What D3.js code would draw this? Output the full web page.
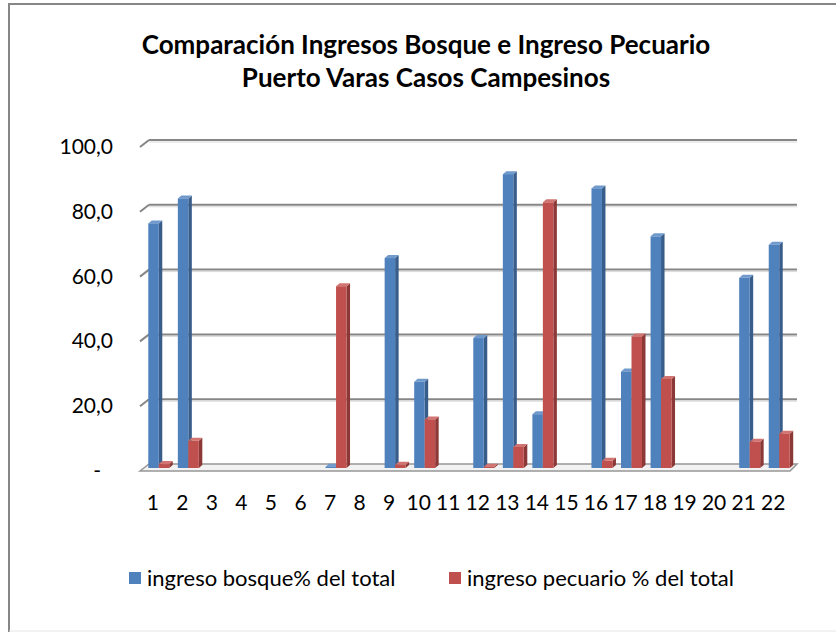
<!DOCTYPE html>
<html>
<head>
<meta charset="utf-8">
<script src="https://cdn.jsdelivr.net/npm/d3@7"></script>
<style>
  body { margin: 0; background: #fff; }
  svg { display: block; font-family: Lato, "Open Sans", sans-serif; }
</style>
</head>
<body>
<svg id="chart" width="836" height="632"></svg>
<script>
// Data
const categories = ['1','2','3','4','5','6','7','8','9','10','11','12','13','14','15','16','17','18','19','20','21','22'];
const bosque   = [75.5, 83.2, 0, 0, 0, 0, 0.4, 0, 64.8, 26.6, 0, 40.1, 90.7, 16.6, 0, 86.3, 29.8, 71.5, 0, 0, 58.7, 68.9];
const pecuario = [1.2, 8.4, 0, 0, 0, 0, 56.1, 0, 1.0, 15.0, 0, 0.4, 6.5, 82.0, 0, 2.2, 40.6, 27.5, 0, 0, 8.1, 10.6];
const seriesNames = ['ingreso bosque% del total', 'ingreso pecuario % del total'];
const yTicks = [0, 20, 40, 60, 80, 100];

const colors = [
  { front: '#4f81bd', side: '#385d8a', top: '#7099cc' },
  { front: '#c0504d', side: '#8c3836', top: '#d27471' }
];

const svg = d3.select('#chart');

// outer frame
svg.append('path')
  .attr('d', 'M9,632 L9,4 L836,4')
  .attr('fill', 'none')
  .attr('stroke', '#868686')
  .attr('stroke-width', 2);
svg.append('line')
  .attr('x1', 9).attr('x2', 836).attr('y1', 631).attr('y2', 631)
  .attr('stroke', '#e6e6e6').attr('stroke-width', 1);

// title
const title = svg.append('text')
  .attr('x', 426)
  .attr('text-anchor', 'middle')
  .style('font-size', '26px')
  .style('font-weight', 'bold');
title.append('tspan').attr('x', 426).attr('y', 54).text('Comparación Ingresos Bosque e Ingreso Pecuario');
title.append('tspan').attr('x', 426).attr('y', 87).text('Puerto Varas Casos Campesinos');

// 3D geometry
const depth = { dx: 9, dy: -7 };
const x0 = 140, x1 = 790;
const x = d3.scaleBand().domain(categories).range([x0, x1]).paddingInner(0.29).paddingOuter(0.145);
const xs = d3.scaleBand().domain([0, 1]).range([0, x.bandwidth()]);
const yFront = d3.scaleLinear().domain([0, 100]).range([471, 147]);
const yBack = v => yFront(v) + depth.dy;

// back wall gridlines
const grid = svg.append('g');
yTicks.forEach(t => {
  if (t === 0) return;
  grid.append('line')
    .attr('x1', x0 + depth.dx).attr('x2', x1 + 7)
    .attr('y1', yBack(t) + 2).attr('y2', yBack(t) + 2)
    .attr('stroke', '#d9d9d9').attr('stroke-width', 1);
  grid.append('line')
    .attr('x1', x0 + depth.dx).attr('x2', x1 + 7)
    .attr('y1', yBack(t)).attr('y2', yBack(t))
    .attr('stroke', '#868686').attr('stroke-width', 2);
  grid.append('line')
    .attr('x1', x0).attr('x2', x0 + depth.dx)
    .attr('y1', yFront(t)).attr('y2', yBack(t))
    .attr('stroke', '#868686').attr('stroke-width', 2);
});

// floor
svg.append('path')
  .attr('d', `M${x0},${yFront(0)} L${x0 + depth.dx},${yBack(0)} L${x1 + 7},${yBack(0)} L${x1},${yFront(0)} Z`)
  .attr('fill', '#f2f2f2')
  .attr('stroke', '#969696')
  .attr('stroke-width', 1.5);

// y axis labels
svg.append('g').selectAll('text')
  .data(yTicks)
  .join('text')
  .attr('x', d => d === 0 ? 101 : 113)
  .attr('y', d => yFront(d) + 7)
  .attr('text-anchor', 'end')
  .style('font-size', '21px')
  .text(d => d === 0 ? '-' : d3.format('.1f')(d).replace('.', ','));

// x axis labels
svg.append('g').selectAll('text')
  .data(categories)
  .join('text')
  .attr('x', d => x(d) + x.bandwidth() / 2 - 2)
  .attr('y', 510)
  .attr('text-anchor', 'middle')
  .style('font-size', '21px')
  .text(d => d);

// bars (mid depth)
const bd = { dx: 4, dy: -3 };  // offset of bar front from the floor front
const sd = { dx: 3.5, dy: -3 }; // bar own depth
const bars = [];
categories.forEach((c, i) => {
  [bosque[i], pecuario[i]].forEach((v, s) => {
    if (v > 0) bars.push({ c, s, v });
  });
});

const barG = svg.append('g').selectAll('g')
  .data(bars)
  .join('g');

barG.each(function(d) {
  const g = d3.select(this);
  const col = colors[d.s];
  const bx = x(d.c) + xs(d.s) + bd.dx;
  const bw = xs.bandwidth();
  const yb = yFront(0) + bd.dy;
  const yt = yFront(d.v) + bd.dy;
  // side
  g.append('path')
    .attr('d', `M${bx + bw},${yb} L${bx + bw + sd.dx},${yb + sd.dy} L${bx + bw + sd.dx},${yt + sd.dy} L${bx + bw},${yt} Z`)
    .attr('fill', col.side);
  // top
  g.append('path')
    .attr('d', `M${bx},${yt} L${bx + sd.dx},${yt + sd.dy} L${bx + bw + sd.dx},${yt + sd.dy} L${bx + bw},${yt} Z`)
    .attr('fill', col.top);
  // front
  g.append('rect')
    .attr('x', bx).attr('y', yt)
    .attr('width', bw).attr('height', Math.max(yb - yt, 0.5))
    .attr('fill', col.front);
});

// legend
const legendX = [129, 449];
const legend = svg.append('g').selectAll('g')
  .data(seriesNames)
  .join('g')
  .attr('transform', (d, i) => `translate(${legendX[i]},572)`);
legend.append('rect')
  .attr('width', 12).attr('height', 12)
  .attr('fill', (d, i) => colors[i].front);
legend.append('text')
  .attr('x', 18).attr('y', 14)
  .style('font-size', '22px')
  .text(d => d);
</script>
</body>
</html>
